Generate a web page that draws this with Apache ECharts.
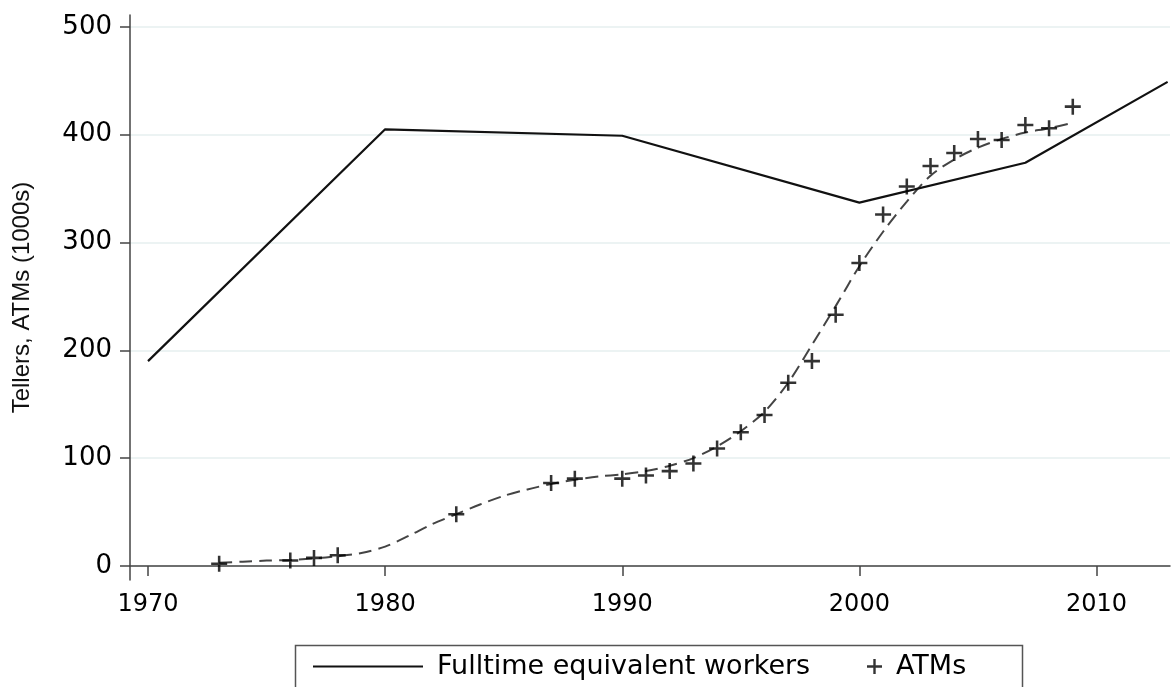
<!DOCTYPE html>
<html>
<head>
<meta charset="utf-8">
<script src="https://cdn.jsdelivr.net/npm/echarts@6/dist/echarts.min.js"></script>
<style>
html,body{margin:0;padding:0;background:#fff;}
#c{width:1172px;height:687px;}
</style>
</head>
<body>
<div id="c"></div>
<script>
// ---- data ----
const tellerYears = [1970, 1980, 1990, 2000, 2007, 2013];
const tellers = [190, 405, 399, 337, 374, 449];

const atmYears = [1973, 1976, 1977, 1978, 1983, 1987, 1988, 1990, 1991, 1992, 1993, 1994, 1995, 1996, 1997, 1998, 1999, 2000, 2001, 2002, 2003, 2004, 2005, 2006, 2007, 2008, 2009];
const atms = [2, 5, 7.5, 10, 48, 77, 81, 81, 84, 88, 95, 109, 124, 140, 170, 190, 233, 281, 326, 352, 371, 383, 396, 395, 409, 406, 426];

const trendYears = [1973, 1974, 1975, 1976, 1977, 1978, 1979, 1980, 1981, 1982, 1983, 1984, 1985, 1986, 1987, 1988, 1989, 1990, 1991, 1992, 1993, 1994, 1995, 1996, 1997, 1998, 1999, 2000, 2001, 2002, 2003, 2004, 2005, 2006, 2007, 2008, 2009];
const trend = [3, 4, 5, 5.5, 7, 9, 12, 18, 28, 39, 48, 57, 65, 71, 76, 80, 83, 85, 88, 93, 100, 111, 125, 143, 170, 205, 241, 278, 310, 338, 362, 377, 388, 396, 402, 406, 411];

const xTicks = [1970, 1980, 1990, 2000, 2010];
const yTicks = [0, 100, 200, 300, 400, 500];

const seriesNames = ['Fulltime equivalent workers', 'ATMs'];
const yTitle = 'Tellers, ATMs (1000s)';

// ---- chart ----
const zip = (a, b) => a.map((v, i) => [v, b[i]]);
const plus = 'path://M4.2,0h1.6v10h-1.6z M0,4.2h10v1.6h-10z';
const FONT = 'DejaVu Sans';

const chart = echarts.init(document.getElementById('c'), null, {renderer: 'canvas'});
chart.setOption({
  animation: false,
  backgroundColor: '#ffffff',
  grid: {left: 130, right: 2, top: 15, bottom: 107, containLabel: false, outerBoundsMode: 'none'},
  xAxis: {
    type: 'value', min: 1969.24, max: 2013.1,
    axisLine: {show: true, lineStyle: {color: '#444', width: 1.5}},
    axisTick: {show: true, length: 10, customValues: xTicks, lineStyle: {color: '#444', width: 1.5}},
    axisLabel: {customValues: xTicks, margin: 13, color: '#000', fontFamily: FONT, fontSize: 24, formatter: v => String(v)},
    splitLine: {show: false}
  },
  yAxis: {
    type: 'value', min: -13, max: 511,
    name: yTitle, nameLocation: 'middle', nameRotate: 90, nameGap: 96,
    nameTextStyle: {color: '#111', fontFamily: 'Liberation Sans', fontSize: 24},
    axisLine: {show: true, lineStyle: {color: '#444', width: 1.5}},
    axisTick: {show: true, length: 10, customValues: yTicks, lineStyle: {color: '#444', width: 1.5}},
    axisLabel: {customValues: yTicks, margin: 18, color: '#000', fontFamily: FONT, fontSize: 26, formatter: v => String(v)},
    splitLine: {show: true, lineStyle: {color: '#e6efef', width: 1.5}}
  },
  legend: [
    {
      data: [seriesNames[0]], left: 308, top: 648, icon: 'rect',
      itemWidth: 110, itemHeight: 2,
      textStyle: {color: '#000', fontFamily: FONT, fontSize: 27, padding: [0, 0, 0, 9]}
    },
    {
      data: [seriesNames[1]], left: 862, top: 648, icon: plus,
      itemWidth: 15, itemHeight: 15,
      textStyle: {color: '#000', fontFamily: FONT, fontSize: 27, padding: [0, 0, 0, 9]}
    }
  ],
  graphic: [{
    type: 'rect', left: 293, top: 643,
    shape: {width: 727, height: 60},
    style: {fill: 'none', stroke: '#555', lineWidth: 1.5},
    silent: true
  }],
  series: [
    {
      name: seriesNames[0], type: 'line', data: zip(tellerYears, tellers),
      symbol: 'none', lineStyle: {color: '#111', width: 2.2}, itemStyle: {color: '#111'}, z: 3
    },
    {
      name: 'ATM trend', type: 'line', data: zip(trendYears, trend), smooth: 0.3,
      symbol: 'none', lineStyle: {color: '#444', width: 2, type: [13, 7]}, z: 2
    },
    {
      name: seriesNames[1], type: 'scatter', data: zip(atmYears, atms),
      symbol: plus, symbolSize: 16, itemStyle: {color: '#000'}, z: 4
    }
  ]
});
</script>
</body>
</html>
